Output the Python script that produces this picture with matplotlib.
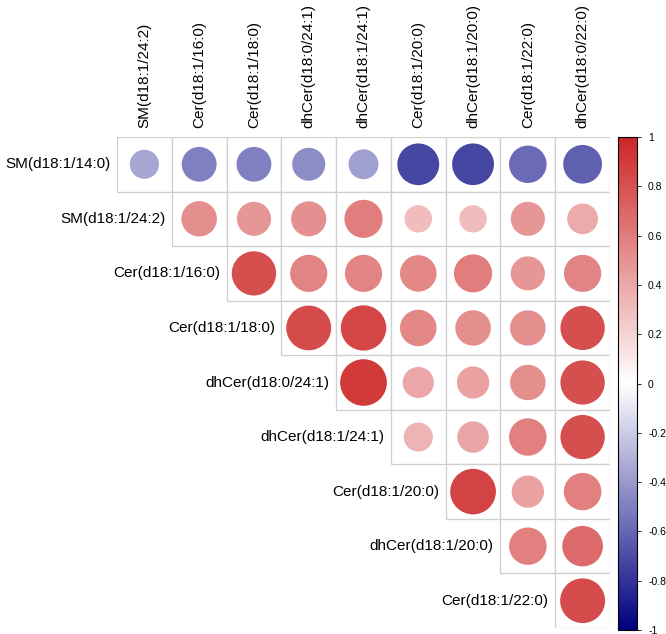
import numpy as np
import matplotlib
matplotlib.use("Agg")
import matplotlib.pyplot as plt
from matplotlib.colors import LinearSegmentedColormap, Normalize
from matplotlib.patches import Circle, Rectangle
from matplotlib.colorbar import ColorbarBase

plt.rcParams['font.family'] = ['Liberation Sans', 'DejaVu Sans']

row_labels = ["SM(d18:1/14:0)", "SM(d18:1/24:2)", "Cer(d18:1/16:0)", "Cer(d18:1/18:0)",
              "dhCer(d18:0/24:1)", "dhCer(d18:1/24:1)", "Cer(d18:1/20:0)",
              "dhCer(d18:1/20:0)", "Cer(d18:1/22:0)"]
col_labels = ["SM(d18:1/24:2)", "Cer(d18:1/16:0)", "Cer(d18:1/18:0)", "dhCer(d18:0/24:1)",
              "dhCer(d18:1/24:1)", "Cer(d18:1/20:0)", "dhCer(d18:1/20:0)",
              "Cer(d18:1/22:0)", "dhCer(d18:0/22:0)"]

# upper triangle, row i holds columns i..8
r_sm14 = [-0.35, -0.50, -0.50, -0.45, -0.37, -0.72, -0.72, -0.58, -0.62]
r_sm24 = [0.52, 0.48, 0.51, 0.60, 0.31, 0.31, 0.48, 0.39]
r_cer16 = [0.81, 0.57, 0.57, 0.55, 0.60, 0.48, 0.57]
r_cer18 = [0.83, 0.85, 0.55, 0.52, 0.52, 0.81]
r_dh0_24 = [0.90, 0.40, 0.43, 0.52, 0.81]
r_dh1_24 = [0.35, 0.41, 0.58, 0.81]
r_cer20 = [0.86, 0.43, 0.58]
r_dh20 = [0.58, 0.68]
r_cer22 = [0.83]
rows = [r_sm14, r_sm24, r_cer16, r_cer18, r_dh0_24, r_dh1_24, r_cer20, r_dh20, r_cer22]

cmap = LinearSegmentedColormap.from_list("corr", ["#000080", "#FFFFFF", "#CD2626"])
norm = Normalize(-1, 1)

W, H = 666, 634
fig = plt.figure(figsize=(W / 100, H / 100), dpi=100)
ax = fig.add_axes([117 / W, 6 / H, 493 / W, 491 / H])
ax.set_xlim(0, 9)
ax.set_ylim(9, 0)
ax.axis("off")

for i, vals in enumerate(rows):
    for k, v in enumerate(vals):
        j = i + k
        ax.add_patch(Rectangle((j, i), 1, 1, facecolor="white", edgecolor="#CFCFCF", lw=0.9))
        ax.add_patch(Circle((j + 0.5, i + 0.5), 0.45 * np.sqrt(abs(v)),
                            facecolor=cmap(norm(v)), edgecolor="none"))
    ax.text(i - 0.12, i + 0.5, row_labels[i], ha="right", va="center", fontsize=11)

for j, lab in enumerate(col_labels):
    ax.text(j + 0.5, -0.17, lab, ha="center", va="bottom", rotation=90, fontsize=11)

cax = fig.add_axes([618 / W, 4 / H, 19 / W, 493 / H])
cb = ColorbarBase(cax, cmap=cmap, norm=norm, orientation="vertical")
ticks = np.round(np.arange(-1, 1.01, 0.2), 1)
cb.set_ticks(ticks)
cb.set_ticklabels(["1" if t == 1 else "-1" if t == -1 else "0" if t == 0 else f"{t:g}" for t in ticks])
cax.tick_params(labelsize=7.5, length=3, width=0.6, pad=5)
cb.outline.set_linewidth(0.8)

fig.savefig("out.png", dpi=100)
